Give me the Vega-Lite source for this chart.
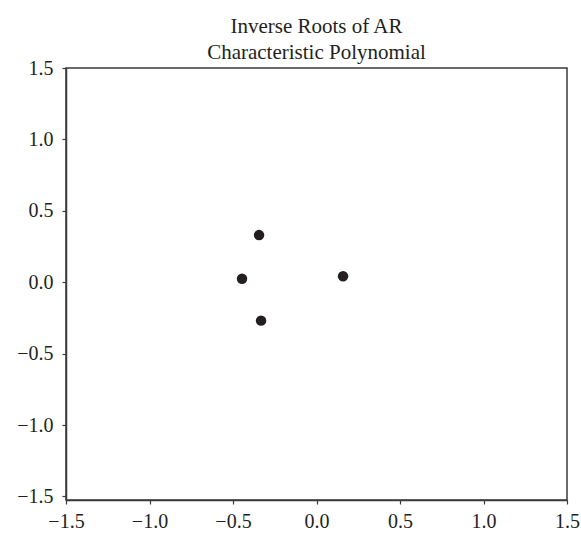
{
  "$schema": "https://vega.github.io/schema/vega-lite/v6.json",
  "width": 501,
  "height": 432,
  "autosize": {"type": "none"},
  "padding": {"left": 66, "top": 68, "right": 14, "bottom": 35},
  "background": "white",
  "title": {
    "text": ["Inverse Roots of AR", "Characteristic Polynomial"],
    "font": "Liberation Serif",
    "fontSize": 21,
    "fontWeight": "normal",
    "color": "#231f20",
    "anchor": "middle",
    "offset": -5,
    "lineHeight": 26
  },
  "config": {
    "view": {"stroke": "#3a3a3a", "strokeWidth": 1.5},
    "axis": {
      "grid": false,
      "domainColor": "#3a3a3a",
      "domainWidth": 1.5,
      "tickColor": "#3a3a3a",
      "tickWidth": 1.2,
      "tickSize": 4,
      "labelFont": "Liberation Serif",
      "labelFontSize": 20,
      "labelColor": "#231f20",
      "title": null
    }
  },
  "data": {
    "values": [
      {"re": -0.344, "im": 0.33},
      {"re": -0.446, "im": 0.024},
      {"re": -0.332, "im": -0.269},
      {"re": 0.159, "im": 0.042}
    ]
  },
  "mark": {"type": "point", "filled": true, "size": 110, "color": "#231f20", "opacity": 1},
  "encoding": {
    "x": {
      "field": "re",
      "type": "quantitative",
      "scale": {"domain": [-1.5, 1.5], "nice": false, "zero": false},
      "axis": {"values": [-1.5, -1.0, -0.5, 0.0, 0.5, 1.0, 1.5], "format": ".1f", "labelFlush": false, "labelPadding": 7, "title": null}
    },
    "y": {
      "field": "im",
      "type": "quantitative",
      "scale": {"domain": [-1.525, 1.5], "nice": false, "zero": false},
      "axis": {"values": [-1.5, -1.0, -0.5, 0.0, 0.5, 1.0, 1.5], "format": ".1f", "labelFlush": false, "labelPadding": 9, "title": null}
    }
  }
}
